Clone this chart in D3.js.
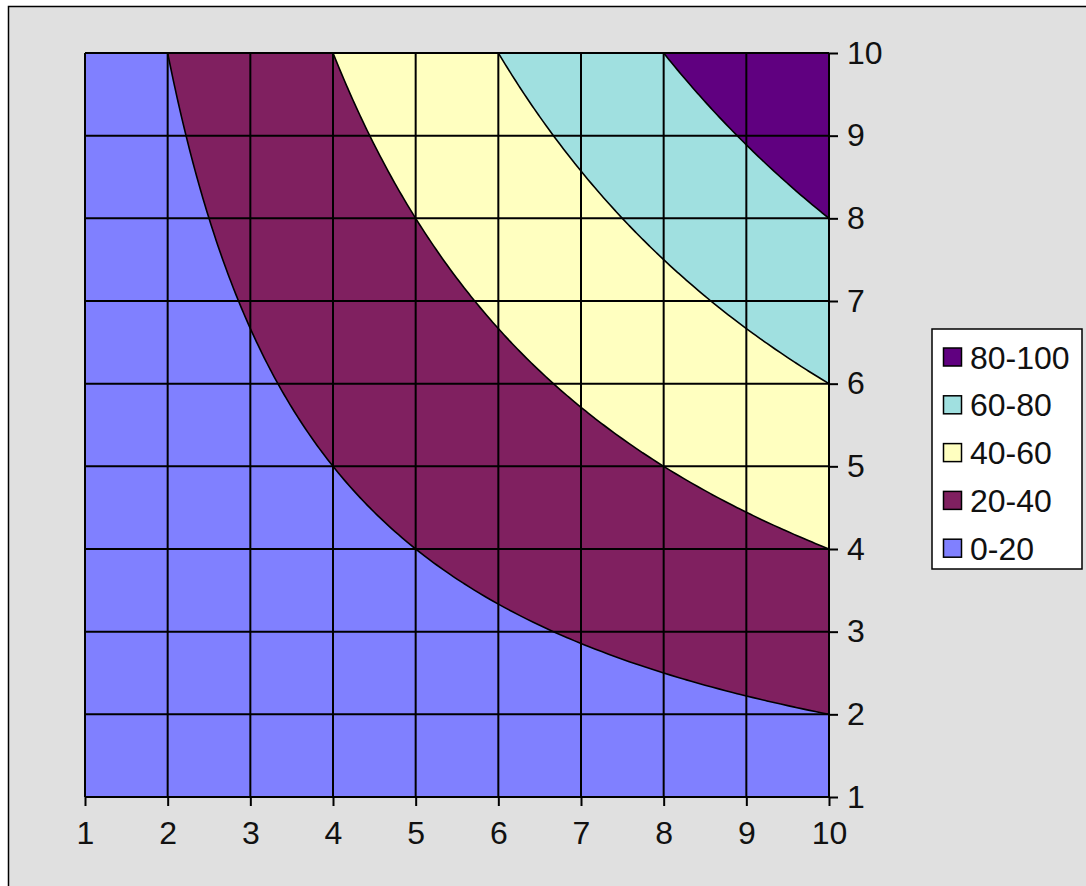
<!DOCTYPE html>
<html>
<head>
<meta charset="utf-8">
<script src="https://cdn.jsdelivr.net/npm/d3@7"></script>
<style>
  html, body { margin: 0; padding: 0; background: #ffffff; }
  svg { display: block; }
  text { font-family: "Liberation Sans", Arial, sans-serif; fill: #111; }
</style>
</head>
<body>
<svg id="chart" width="1086" height="886"></svg>
<script>
// ---- data ----
const xValues = [1, 2, 3, 4, 5, 6, 7, 8, 9, 10];
const yValues = [1, 2, 3, 4, 5, 6, 7, 8, 9, 10];
// zValues[j][i] : value at y = yValues[j], x = xValues[i]
const zValues = [
  [1, 2, 3, 4, 5, 6, 7, 8, 9, 10],
  [2, 4, 6, 8, 10, 12, 14, 16, 18, 20],
  [3, 6, 9, 12, 15, 18, 21, 24, 27, 30],
  [4, 8, 12, 16, 20, 24, 28, 32, 36, 40],
  [5, 10, 15, 20, 25, 30, 35, 40, 45, 50],
  [6, 12, 18, 24, 30, 36, 42, 48, 54, 60],
  [7, 14, 21, 28, 35, 42, 49, 56, 63, 70],
  [8, 16, 24, 32, 40, 48, 56, 64, 72, 80],
  [9, 18, 27, 36, 45, 54, 63, 72, 81, 90],
  [10, 20, 30, 40, 50, 60, 70, 80, 90, 100]
];
const bandThresholds = [0, 20, 40, 60, 80];
const bandLabels = ["0-20", "20-40", "40-60", "60-80", "80-100"];
const bandColors = ["#8080ff", "#802060", "#ffffc0", "#a0e0e0", "#600080"];
const xTicks = [1, 2, 3, 4, 5, 6, 7, 8, 9, 10];
const yTicks = [1, 2, 3, 4, 5, 6, 7, 8, 9, 10];

// ---- layout ----
const svg = d3.select("#chart");
const plot = { left: 85, right: 829, top: 53, bottom: 797 };
const x = d3.scaleLinear().domain([1, 10]).range([plot.left, plot.right]);
const y = d3.scaleLinear().domain([1, 10]).range([plot.bottom, plot.top]);
const fontSize = 32;

// chart area
svg.append("rect")
  .attr("x", 8.5).attr("y", 6.5).attr("width", 1100).attr("height", 900)
  .attr("fill", "#e0e0e0").attr("stroke", "#000").attr("stroke-width", 1.5);

// ---- surface: bilinear rendering grid from the data grid ----
const k = 12; // sub-steps per cell for rendering
const nx = (xValues.length - 1) * k + 1;
const ny = (yValues.length - 1) * k + 1;
const grid = new Array(nx * ny);
for (let j = 0; j < ny; j++) {
  const fj = j / k, j0 = Math.min(Math.floor(fj), yValues.length - 2), tj = fj - j0;
  for (let i = 0; i < nx; i++) {
    const fi = i / k, i0 = Math.min(Math.floor(fi), xValues.length - 2), ti = fi - i0;
    const v00 = zValues[j0][i0], v10 = zValues[j0][i0 + 1];
    const v01 = zValues[j0 + 1][i0], v11 = zValues[j0 + 1][i0 + 1];
    grid[j * nx + i] = (1 - tj) * ((1 - ti) * v00 + ti * v10) + tj * ((1 - ti) * v01 + ti * v11);
  }
}
const xStep = (xValues[xValues.length - 1] - xValues[0]) / (nx - 1);
const yStep = (yValues[yValues.length - 1] - yValues[0]) / (ny - 1);
const proj = d3.geoTransform({
  point: function(px, py) {
    this.stream.point(x(xValues[0] + (px - 0.5) * xStep), y(yValues[0] + (py - 0.5) * yStep));
  }
});
const path = d3.geoPath(proj);

svg.append("clipPath").attr("id", "plotClip")
  .append("rect")
  .attr("x", plot.left).attr("y", plot.top)
  .attr("width", plot.right - plot.left).attr("height", plot.bottom - plot.top);

const surf = svg.append("g").attr("clip-path", "url(#plotClip)");
surf.append("rect")
  .attr("x", plot.left).attr("y", plot.top)
  .attr("width", plot.right - plot.left).attr("height", plot.bottom - plot.top)
  .attr("fill", bandColors[0]);

const contours = d3.contours().size([nx, ny]).thresholds(bandThresholds.slice(1))(grid);
surf.selectAll("path.band")
  .data(contours)
  .join("path")
  .attr("class", "band")
  .attr("d", path)
  .attr("fill", (d, i) => bandColors[i + 1])
  .attr("stroke", "#000")
  .attr("stroke-width", 1.6)
  .attr("stroke-linejoin", "round");

// gridlines
const gridG = svg.append("g");
gridG.selectAll("line.vx").data(xTicks).join("line")
  .attr("x1", d => x(d)).attr("x2", d => x(d))
  .attr("y1", plot.top).attr("y2", plot.bottom)
  .attr("stroke", "#000").attr("stroke-width", 2);
gridG.selectAll("line.hy").data(yTicks).join("line")
  .attr("y1", d => y(d)).attr("y2", d => y(d))
  .attr("x1", plot.left).attr("x2", plot.right)
  .attr("stroke", "#000").attr("stroke-width", 2);

// axes
const xAxis = d3.axisBottom(x).tickValues(xTicks).tickSize(9).tickPadding(15).tickSizeOuter(0);
const gx = svg.append("g").attr("transform", `translate(0,${plot.bottom})`).call(xAxis);
gx.select(".domain").remove();
gx.selectAll(".tick line").attr("stroke", "#000").attr("stroke-width", 2);
gx.selectAll(".tick text").attr("font-size", fontSize).attr("font-family", "Liberation Sans, Arial, sans-serif").attr("fill", "#111");

const yAxis = d3.axisRight(y).tickValues(yTicks).tickSize(9).tickPadding(9).tickSizeOuter(0);
const gy = svg.append("g").attr("transform", `translate(${plot.right},0)`).call(yAxis);
gy.select(".domain").remove();
gy.selectAll(".tick line").attr("stroke", "#000").attr("stroke-width", 2);
gy.selectAll(".tick text").attr("font-size", fontSize).attr("font-family", "Liberation Sans, Arial, sans-serif").attr("fill", "#111");

// legend
const legend = svg.append("g");
legend.append("rect")
  .attr("x", 932).attr("y", 329).attr("width", 150).attr("height", 240)
  .attr("fill", "#fff").attr("stroke", "#000").attr("stroke-width", 1.5);
const order = d3.range(bandLabels.length).reverse();
const li = legend.selectAll("g.item").data(order).join("g")
  .attr("class", "item")
  .attr("transform", (d, i) => `translate(0,${357 + i * 47.8})`);
li.append("rect")
  .attr("x", 943.5).attr("y", -9).attr("width", 18).attr("height", 18)
  .attr("fill", d => bandColors[d]).attr("stroke", "#000").attr("stroke-width", 1.5);
li.append("text")
  .attr("x", 970).attr("y", 0).attr("dy", "0.36em")
  .attr("font-size", fontSize)
  .text(d => bandLabels[d]);
</script>
</body>
</html>
